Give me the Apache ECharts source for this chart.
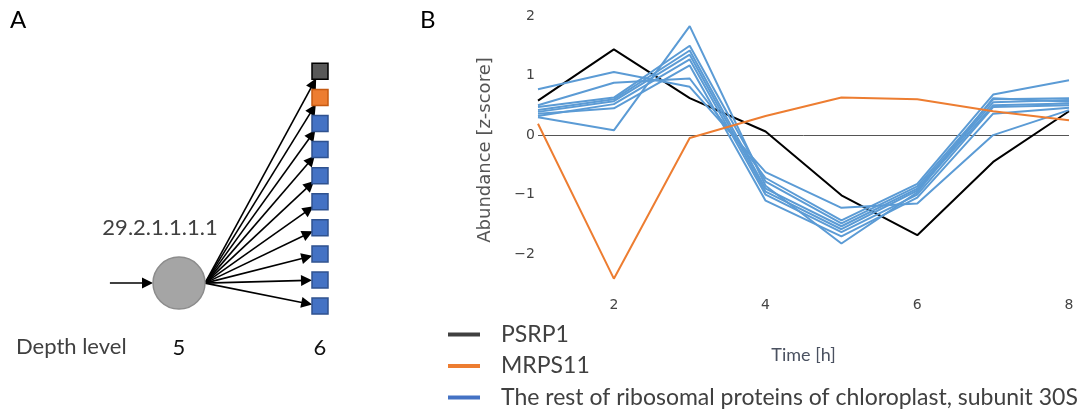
<!DOCTYPE html>
<html><head><meta charset="utf-8">
<script src="https://cdn.jsdelivr.net/npm/echarts@6/dist/echarts.min.js"></script>
<style>html,body{margin:0;padding:0;background:#fff}#c{width:1092px;height:413px}</style>
</head><body><div id="c"></div><script>
// ---------- Panel B data ----------
const timePoints = [1, 2, 3, 4, 5, 6, 7, 8];
const xTickLabels = [2, 4, 6, 8];
const yTickLabels = [-2, -1, 0, 1, 2];
const psrp1  = [0.58, 1.44, 0.62, 0.06, -1.01, -1.68, -0.45, 0.40];
const mrps11 = [0.19, -2.41, -0.05, 0.32, 0.63, 0.60, 0.40, 0.25];
const rest1 = [0.30, 0.08, 1.83, -0.85, -1.82, -0.96, 0.62, 0.56];
const rest2 = [0.77, 1.06, 0.81, -0.62, -1.22, -1.15, 0.00, 0.42];
const rest3 = [0.50, 0.88, 0.95, -0.72, -1.43, -0.82, 0.68, 0.92];
const rest4 = [0.47, 0.63, 1.50, -0.78, -1.48, -0.86, 0.60, 0.62];
const rest5 = [0.42, 0.60, 1.42, -0.90, -1.53, -0.90, 0.55, 0.59];
const rest6 = [0.39, 0.57, 1.35, -0.95, -1.58, -0.93, 0.50, 0.53];
const rest7 = [0.32, 0.52, 1.27, -1.00, -1.63, -1.00, 0.47, 0.50];
const rest8 = [0.36, 0.45, 1.17, -1.10, -1.70, -1.05, 0.36, 0.46];
const restSeries = [rest1, rest2, rest3, rest4, rest5, rest6, rest7, rest8];
const nameP = 'PSRP1';
const nameM = 'MRPS11';
const nameRest = 'The rest of ribosomal proteins of chloroplast, subunit 30S';

// ---------- Panel A data ----------
const depthLevels = [5, 6];
const parentTerm = '29.2.1.1.1.1';
const childNames = ['PSRP1', 'MRPS11', 'RPS 30S a', 'RPS 30S b', 'RPS 30S c', 'RPS 30S d',
                    'RPS 30S e', 'RPS 30S f', 'RPS 30S g', 'RPS 30S h'];
const childGroups = ['PSRP1', 'MRPS11', 'rest', 'rest', 'rest', 'rest', 'rest', 'rest', 'rest', 'rest'];

// ---------- styles ----------
const lineColors = { PSRP1: '#000000', MRPS11: '#ED7D31', rest: '#5B9BD5' };
const legendColors = { PSRP1: '#404040', MRPS11: '#ED7D31', rest: '#4472C4' };
const nodeFill = { PSRP1: '#595959', MRPS11: '#ED7D31', rest: '#4472C4' };
const nodeBorder = { PSRP1: '#000000', MRPS11: '#C55A11', rest: '#2F528F' };
const calib = 'Lato, "Open Sans", sans-serif';
const verd = '"DejaVu Sans", Verdana, sans-serif';

const zip = arr => timePoints.map((t, i) => [t, arr[i]]);

// panel A layout constants
const rootRow = 8.12;
const ARROW = 11;
const CIRCLE = 52, SQUARE = 16;
const hubOffset = 26 / 141;

const graphNodes = [
  { name: '__in', value: [4.51, rootRow], symbolSize: 0 },
  { name: parentTerm, value: [depthLevels[0], rootRow], symbolSize: CIRCLE + ARROW },
  { name: '__hub', value: [depthLevels[0] + hubOffset, rootRow], symbolSize: 0 }
].concat(childNames.map((n, i) => ({ name: n, value: [depthLevels[1], i], symbolSize: SQUARE + ARROW })));
const graphLinks = [{ source: '__in', target: parentTerm }]
  .concat(childNames.map(n => ({ source: '__hub', target: n })));

const nodeMarks = [{
  name: parentTerm, value: [depthLevels[0], rootRow], symbol: 'circle', symbolSize: CIRCLE,
  itemStyle: { color: '#A5A5A5', borderColor: '#8C8C8C', borderWidth: 1.5, opacity: 1 },
  label: { show: true, position: 'top', distance: 17, offset: [-19, 0], formatter: parentTerm,
           fontFamily: calib, fontSize: 22, color: '#404040' }
}].concat(childNames.map((n, i) => ({
  name: n, value: [depthLevels[1], i], symbol: 'rect', symbolSize: SQUARE,
  itemStyle: { color: nodeFill[childGroups[i]], borderColor: nodeBorder[childGroups[i]], borderWidth: 1.5, opacity: 1 }
})));

const series = [
  {
    type: 'line', name: nameP, data: zip(psrp1), xAxisIndex: 0, yAxisIndex: 0,
    showSymbol: false, symbol: 'none', lineStyle: { color: lineColors.PSRP1, width: 2 },
    itemStyle: { color: lineColors.PSRP1 },
    markLine: { silent: true, z: 1, symbol: ['none', 'none'], label: { show: false },
                lineStyle: { color: '#555', width: 1, type: 'solid' }, data: [{ yAxis: 0 }] }
  }
].concat(restSeries.map(arr => ({
  type: 'line', name: nameRest, data: zip(arr), xAxisIndex: 0, yAxisIndex: 0,
  showSymbol: false, symbol: 'none', lineStyle: { color: lineColors.rest, width: 2 },
  itemStyle: { color: lineColors.rest }
}))).concat([
  {
    type: 'line', name: nameM, data: zip(mrps11), xAxisIndex: 0, yAxisIndex: 0,
    showSymbol: false, symbol: 'none', lineStyle: { color: lineColors.MRPS11, width: 2 },
    itemStyle: { color: lineColors.MRPS11 }
  },
  {
    type: 'graph', coordinateSystem: 'cartesian2d', xAxisIndex: 1, yAxisIndex: 1,
    layout: 'none', silent: true, data: graphNodes, links: graphLinks,
    itemStyle: { opacity: 0 }, label: { show: false },
    edgeSymbol: ['none', 'triangle'], edgeSymbolSize: ARROW,
    lineStyle: { color: '#000', width: 1.6, opacity: 1, curveness: 0 },
    emphasis: { disabled: true }
  },
  {
    type: 'scatter', name: 'nodes', xAxisIndex: 1, yAxisIndex: 1, silent: true,
    itemStyle: { opacity: 1 },
    data: nodeMarks, z: 3
  }
]);

const chart = echarts.init(document.getElementById('c'), null, { renderer: 'canvas' });
chart.setOption({
  animation: false,
  backgroundColor: '#fff',
  grid: [
    { left: 538, right: 23, top: 10, bottom: 123, containLabel: false },
    { left: 108.5, width: 239.7, top: 58.3, height: 260.8, containLabel: false }
  ],
  xAxis: [
    {
      gridIndex: 0, type: 'value', min: 1, max: 8,
      axisLine: { show: false }, axisTick: { show: false }, splitLine: { show: false },
      axisLabel: { customValues: xTickLabels, margin: 8, color: '#444', fontSize: 14, fontFamily: verd },
      name: 'Time [h]', nameLocation: 'middle', nameGap: 56,
      nameTextStyle: { fontFamily: calib, fontSize: 18, color: '#4a5160' }
    },
    {
      gridIndex: 1, type: 'value', min: 4.5, max: 6.2,
      axisLine: { show: false }, axisTick: { show: false }, splitLine: { show: false },
      axisLabel: { customValues: depthLevels, margin: 18, color: '#111', fontSize: 22, fontFamily: calib }
    }
  ],
  yAxis: [
    {
      gridIndex: 0, type: 'value', min: -2.6, max: 2.1,
      axisLine: { show: false }, axisTick: { show: false }, splitLine: { show: false },
      axisLabel: { customValues: yTickLabels, margin: 3, color: '#444', fontSize: 14, fontFamily: verd,
                   formatter: v => (v < 0 ? '\u2212' + Math.abs(v) : String(v)) },
      name: 'Abundance [z-score]', nameLocation: 'middle', nameGap: 44, nameRotate: 90,
      nameTextStyle: { fontFamily: verd, fontSize: 18, color: '#555' }
    },
    {
      gridIndex: 1, type: 'value', min: -0.5, max: 9.5, inverse: true, show: false
    }
  ],
  legend: {
    orient: 'vertical', left: 448, top: 323, height: 90, padding: 0,
    itemWidth: 32, itemHeight: 4, itemGap: 8.5,
    icon: 'rect', selectedMode: false,
    textStyle: { fontFamily: calib, fontSize: 23, lineHeight: 23, color: '#404040', padding: [0, 0, 0, 16] },
    data: [
      { name: nameP, itemStyle: { color: legendColors.PSRP1 } },
      { name: nameM, itemStyle: { color: legendColors.MRPS11 } },
      { name: nameRest, itemStyle: { color: legendColors.rest } }
    ]
  },
  graphic: [
    { type: 'text', left: 10, top: 8, style: { text: 'A', fontFamily: calib, fontSize: 24, fill: '#000' } },
    { type: 'text', left: 420, top: 8, style: { text: 'B', fontFamily: calib, fontSize: 24, fill: '#000' } },
    { type: 'text', left: 16, top: 336, style: { text: 'Depth level', fontFamily: calib, fontSize: 22, fill: '#404040' } }
  ],
  series: series
});
</script></body></html>
